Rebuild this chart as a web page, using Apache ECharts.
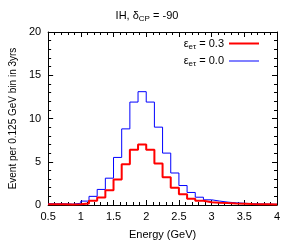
<!DOCTYPE html>
<html><head><meta charset="utf-8">
<script src="https://cdn.jsdelivr.net/npm/echarts@6/dist/echarts.min.js"></script>
<style>html,body{margin:0;padding:0;background:#fff}#c{width:294px;height:245px}</style>
</head><body><div id="c"></div>
<script>
// bin left edges (GeV), bin width 0.125
var binEdges = [0.5,0.625,0.75,0.875,1.0,1.125,1.25,1.375,1.5,1.625,1.75,1.875,2.0,2.125,2.25,2.375,2.5,2.625,2.75,2.875,3.0,3.125,3.25,3.375,3.5,3.625,3.75,3.875];
var binEnd = 4.0;
// eps_et = 0.3 (red)
var eps03 = [0.1,0.08,0.05,0.08,0.18,0.5,0.88,1.7,2.95,4.7,6.4,7.0,6.4,4.8,3.2,2.0,1.25,0.72,0.48,0.33,0.27,0.22,0.18,0.15,0.12,0.1,0.08,0.06];
// eps_et = 0.0 (blue)
var eps00 = [0.15,0.15,0.1,0.2,0.45,1.0,1.8,3.1,5.5,8.8,11.9,13.1,11.9,9.0,6.0,3.7,2.25,1.45,0.9,0.6,0.45,0.33,0.25,0.2,0.15,0.12,0.1,0.08];
var xTicks = [0.5,1,1.5,2,2.5,3,3.5,4];
var yTicks = [0,5,10,15,20];

function steps(vals){
  var d = binEdges.map(function(e,i){return [e, vals[i]];});
  d.push([binEnd, vals[vals.length-1]]);
  return d;
}
var FONT = 'Liberation Sans';
var rich = {
  n:{fontFamily:FONT,fontSize:11,color:'#000',fontWeight:'normal'},
  s:{fontFamily:FONT,fontSize:8,color:'#000',fontWeight:'normal',verticalAlign:'bottom',padding:[6,0,0,0]}
};
var chart = echarts.init(document.getElementById('c'), null, {renderer:'canvas'});
function xAxisCfg(pos, show){
  return {type:'value', position:pos, min:0.5, max:4, interval:0.5,
    axisLine:{show:true,onZero:false,lineStyle:{color:'#000',width:1}},
    axisTick:{show:true,inside:true,length:5,lineStyle:{color:'#000'}},
    minorTick:{show:true,splitNumber:5,length:3,lineStyle:{color:'#000'}},
    splitLine:{show:false},
    axisLabel:{show:show,fontFamily:FONT,fontSize:11,color:'#000',margin:6,
      formatter:function(v){return String(v);}},
    name: show ? 'Energy (GeV)' : '', nameLocation:'middle', nameGap:24,
    nameTextStyle:{fontFamily:FONT,fontSize:11,color:'#000'}};
}
function yAxisCfg(pos, show){
  return {type:'value', position:pos, min:0, max:20, interval:5,
    axisLine:{show:true,onZero:false,lineStyle:{color:'#000',width:1}},
    axisTick:{show:true,inside:true,length:5,lineStyle:{color:'#000'}},
    minorTick:{show:true,splitNumber:5,length:3,lineStyle:{color:'#000'}},
    splitLine:{show:false},
    axisLabel:{show:show,fontFamily:FONT,fontSize:11,color:'#000',margin:7},
    name: show ? 'Event per 0.125 GeV bin in 3yrs' : '', nameLocation:'middle', nameGap:28,
    nameTextStyle:{fontFamily:FONT,fontSize:10,color:'#000'}};
}
chart.setOption({
  animation:false,
  backgroundColor:'#fff',
  title:{text:'{n|IH, δ}{s|CP}{n| = -90}', left:'center', top:4,
    textStyle:{rich:rich,fontWeight:'normal'}},
  grid:{left:44,right:17,top:32,bottom:33},
  xAxis:[xAxisCfg('bottom',true), xAxisCfg('top',false)],
  yAxis:[yAxisCfg('left',true), yAxisCfg('right',false)],
  legend:{orient:'vertical', right:30, top:33, align:'right', itemWidth:30, itemHeight:10, itemGap:5,
    data:[{name:'e03',icon:'path://M0,0H30V2H0Z'},{name:'e00',icon:'path://M0,0H30V1H0Z'}],
    formatter:function(n){return n==='e03' ? '{n|ε}{s|eτ}{n| = 0.3}' : '{n|ε}{s|eτ}{n| = 0.0}';},
    textStyle:{rich:rich}},
  series:[
    {name:'e00', type:'line', step:'end', data:steps(eps00), symbol:'none',
      lineStyle:{color:'#0000ff',width:1}, itemStyle:{color:'#0000ff'}},
    {name:'e03', type:'line', step:'end', data:steps(eps03), symbol:'none',
      lineStyle:{color:'#ff0000',width:2}, itemStyle:{color:'#ff0000'}}
  ]
});
</script></body></html>
